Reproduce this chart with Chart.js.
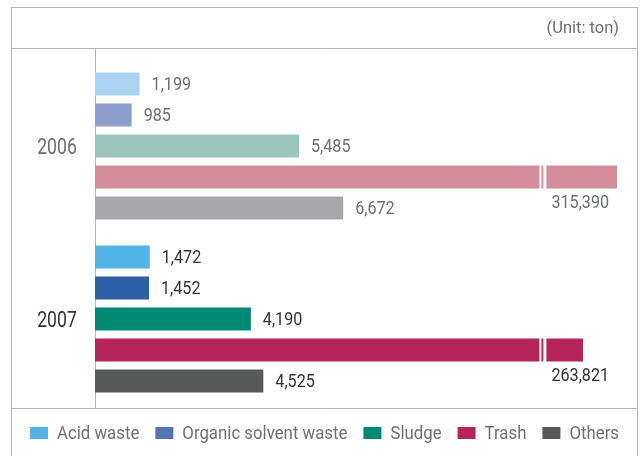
<!DOCTYPE html>
<html>
<head>
<meta charset="utf-8">
<script src="https://cdn.jsdelivr.net/npm/chart.js@4/dist/chart.umd.min.js"></script>
<style>
    html, body { margin: 0; padding: 0; background: #fff; }
    #wrap { width: 642px; height: 456px; position: relative; }
</style>
</head>
<body>
<div id="wrap"><canvas id="wasteChart" width="642" height="456"></canvas></div>
<script>
    const years = ["2006", "2007"];
    const series = ["Acid waste", "Organic solvent waste", "Sludge", "Trash", "Others"];
    const acidWaste = [1199, 1472];
    const organicSolventWaste = [985, 1452];
    const sludge = [5485, 4190];
    const trash = [315390, 263821];
    const others = [6672, 4525];
    const unitLabel = "(Unit: ton)";

    const barColors = [
        ["#abd3f2", "#52b3e6"],
        ["#8c9ecc", "#2b5fa6"],
        ["#9cc6bc", "#008a74"],
        ["#d38c9a", "#b5245a"],
        ["#a7a8ab", "#58595b"]
    ];
    const legendColors = ["#52b3e6", "#5574b4", "#008a74", "#b5245a", "#58595b"];
    const yearText = ["#6d6f74", "#333333"];

    const FONT = "Roboto, sans-serif";
    const SQUEEZE = 0.8; // the original face is a condensed DIN-like font
    const LINE = "#b3b8b3";

    // broken value axis: linear up to BREAK_LOW, compressed above BREAK_HIGH
    const BREAK_LOW = 12000;
    const BREAK_HIGH = 200728;
    const UPPER_RATIO = 0.01772;
    const toVirtual = (v) => (v <= BREAK_LOW ? v : BREAK_LOW + (v - BREAK_HIGH) * UPPER_RATIO);

    class BrokenScale extends Chart.LinearScale {
        static id = "broken";
        static defaults = Chart.LinearScale.defaults;
        getPixelForValue(value) {
            return super.getPixelForValue(toVirtual(value));
        }
    }
    Chart.register(BrokenScale);

    const fmt = (n) => n.toLocaleString("en-US");

    function squeezedText(ctx, text, x, y, sx) {
        ctx.save();
        ctx.translate(x, y);
        ctx.scale(sx, 1);
        ctx.fillText(text, 0, 0);
        ctx.restore();
    }

    const decorations = {
        id: "decorations",
        beforeDraw(chart) {
            const ctx = chart.ctx;
            ctx.save();
            ctx.strokeStyle = LINE;
            ctx.lineWidth = 1;
            ctx.strokeRect(11.5, 7.5, 626, 460);
            ctx.beginPath();
            ctx.moveTo(11, 48.5); ctx.lineTo(638, 48.5);
            ctx.moveTo(11, 408.5); ctx.lineTo(638, 408.5);
            ctx.moveTo(95.5, 48); ctx.lineTo(95.5, 408);
            ctx.stroke();

            ctx.fillStyle = "#6d6f74";
            ctx.font = "17px " + FONT;
            ctx.textAlign = "right";
            ctx.textBaseline = "middle";
            squeezedText(ctx, unitLabel, 619, 29, 0.97);
            ctx.restore();
        },
        afterDatasetsDraw(chart) {
            const ctx = chart.ctx;
            const yScale = chart.scales.y;
            const breakX = chart.scales.x.getPixelForValue(BREAK_LOW);
            ctx.save();

            // year labels
            ctx.font = "22px " + FONT;
            ctx.textAlign = "center";
            ctx.textBaseline = "middle";
            years.forEach((yr, i) => {
                ctx.fillStyle = yearText[i];
                squeezedText(ctx, yr, 57, yScale.getPixelForValue(i) + 2, SQUEEZE);
            });

            ctx.font = "19px " + FONT;
            ctx.textAlign = "left";
            chart.data.datasets.forEach((ds, di) => {
                const meta = chart.getDatasetMeta(di);
                meta.data.forEach((bar, i) => {
                    const v = ds.data[i];
                    if (v > BREAK_HIGH) {
                        ctx.fillStyle = "#ffffff";
                        ctx.fillRect(breakX - 2, bar.y - bar.height / 2 - 1, 2, bar.height + 2);
                        ctx.fillRect(breakX + 2, bar.y - bar.height / 2 - 1, 3, bar.height + 2);
                        ctx.fillStyle = yearText[i];
                        squeezedText(ctx, fmt(v), breakX + 10, bar.y + bar.height / 2 + 15, 0.85);
                    } else {
                        ctx.fillStyle = yearText[i];
                        squeezedText(ctx, fmt(v), bar.x + 12, bar.y + 1, 0.85);
                    }
                });
            });

            // legend, fitted to the reference span 30..619
            ctx.font = "19px " + FONT;
            ctx.textBaseline = "middle";
            ctx.textAlign = "left";
            const sw = 18, gap = 9, spacing = 16;
            const widths = series.map((s) => ctx.measureText(s).width);
            const fixed = series.length * (sw + gap) + spacing * (series.length - 1);
            const sx = (589 - fixed) / widths.reduce((a, w) => a + w, 0);
            let x = 30;
            series.forEach((s, i) => {
                ctx.fillStyle = legendColors[i];
                ctx.fillRect(x, 427, sw, 12);
                ctx.fillStyle = "#6d7177";
                squeezedText(ctx, s, x + sw + gap, 434, sx);
                x += sw + gap + widths[i] * sx + spacing;
            });
            ctx.restore();
        }
    };

    const seriesData = [acidWaste, organicSolventWaste, sludge, trash, others];

    new Chart(document.getElementById("wasteChart"), {
        type: "bar",
        data: {
            labels: years,
            datasets: series.map((name, i) => ({
                label: name,
                data: seriesData[i],
                backgroundColor: barColors[i],
                borderWidth: 0,
                categoryPercentage: 0.896,
                barPercentage: 0.742
            }))
        },
        options: {
            indexAxis: "y",
            responsive: false,
            animation: false,
            layout: { padding: { left: 95, right: 5, top: 59.5, bottom: 50.5 } },
            scales: {
                x: { type: "broken", min: 0, max: 14570, display: false },
                y: { display: false }
            },
            plugins: {
                legend: { display: false },
                tooltip: { enabled: false }
            }
        },
        plugins: [decorations]
    });
</script>
</body>
</html>
